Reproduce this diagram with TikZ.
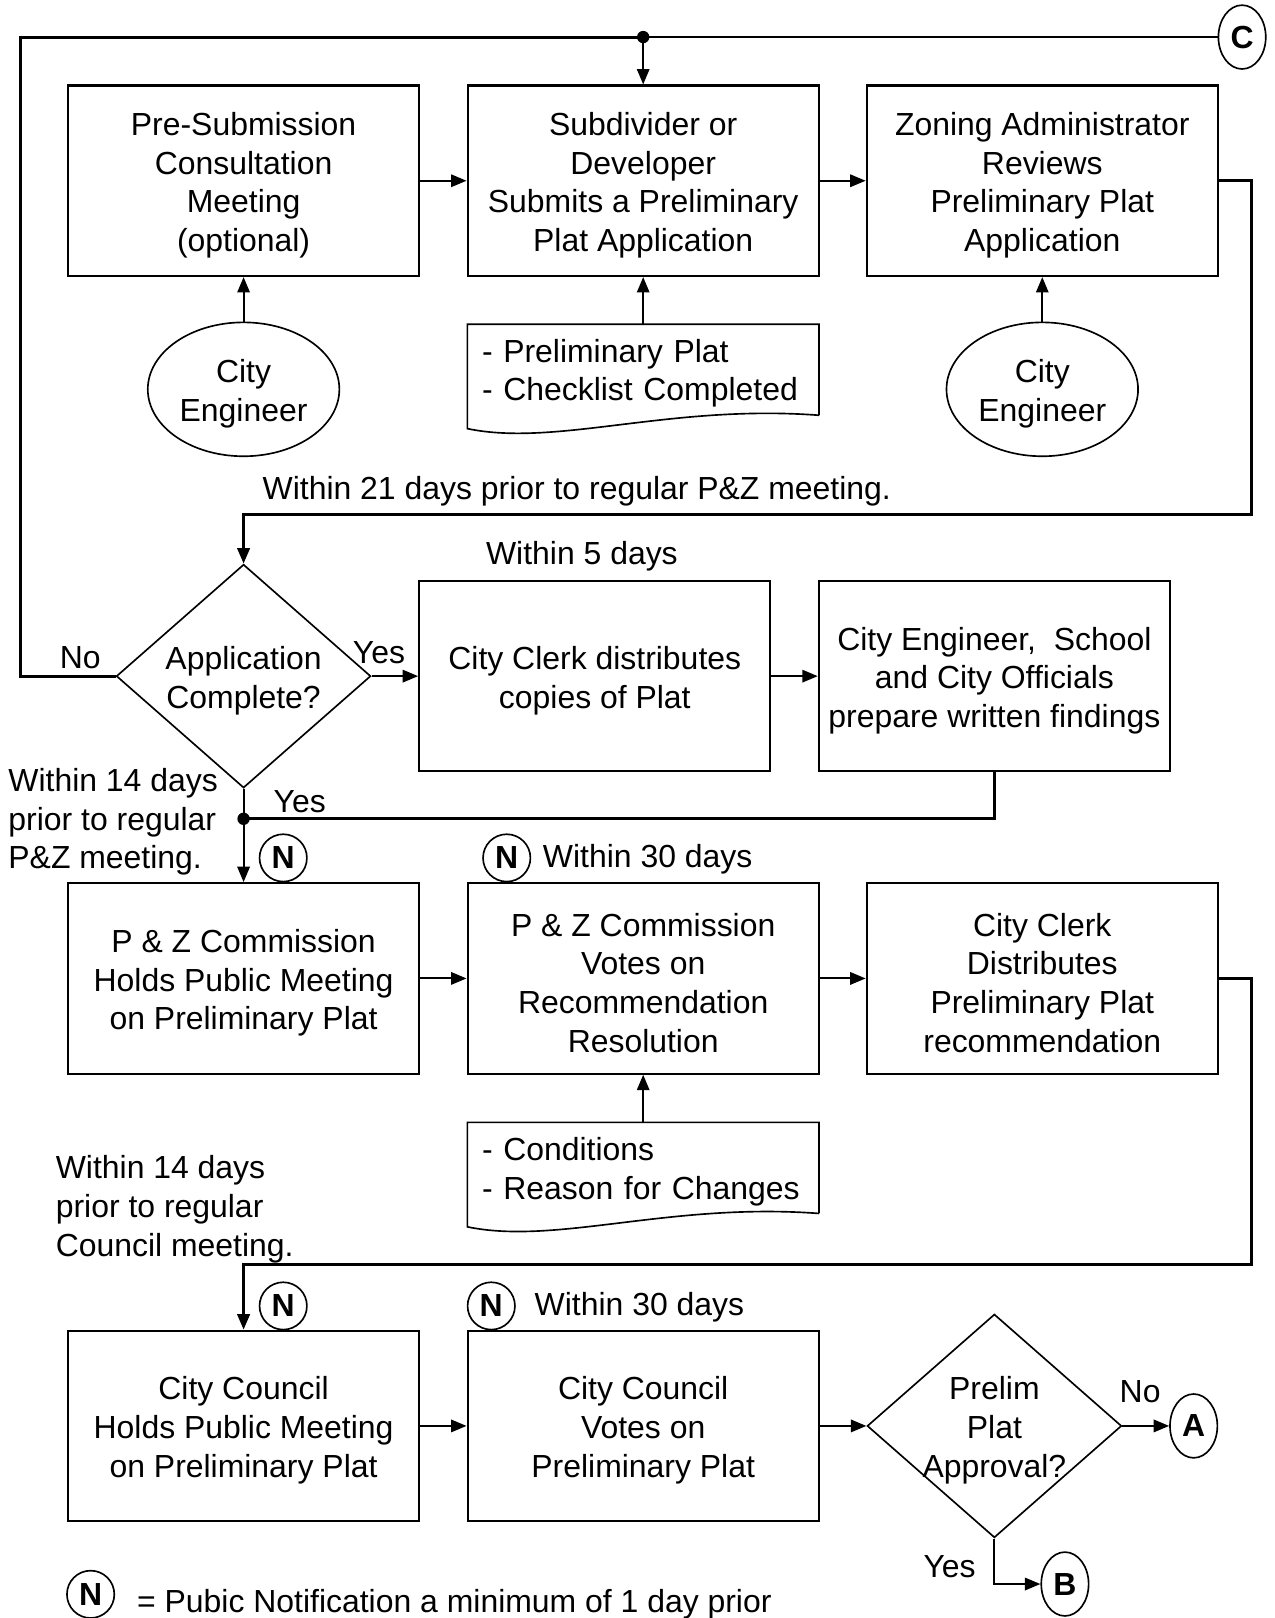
\documentclass[tikz,border=0pt]{standalone}
\usepackage{fontspec}
\setmainfont{Liberation Sans}
\usetikzlibrary{shapes.geometric,arrows.meta}
\begin{document}
\begin{tikzpicture}[x=1pt, y=1pt,
      every node/.style = {font=\fontsize{31}{37.5}\selectfont},
      lowered/.style = {align=flush center, text width=#1,
        execute at begin node={\rule{0pt}{31pt}}},
      box/.style = {shape=rectangle, draw, line width=2pt, lowered=330pt,
        minimum width=341pt, minimum height=185pt},
      person/.style = {shape=ellipse, draw, line width=1.6pt, lowered=128pt,
        minimum width=186pt, minimum height=130pt, inner sep=0pt},
      paper/.style = {align=left, text width=313pt, inner xsep=14pt,
        inner ysep=0pt, minimum height=95pt},
      decision/.style = {shape=diamond, draw, line width=1.6pt,
        minimum width=247pt, minimum height=217pt, inner sep=0pt},
      joint/.style = {shape=ellipse, draw, line width=1.6pt, inner sep=0pt,
        minimum width=46pt, minimum height=62pt,
        font=\fontsize{31}{37.5}\selectfont\bfseries},
      notice/.style = {shape=circle, draw, line width=1.6pt, inner sep=0pt,
        minimum size=46pt, font=\fontsize{31}{37.5}\selectfont\bfseries},
      arr/.style = {line width=2pt, -{Triangle[length=15pt,width=12pt]}},
      feed/.style = {line width=2.8pt}]
      \useasboundingbox (0,0) rectangle (1237,-1571);
      % first row
      \node[box] (pre) at (236.5,-175.5) {Pre-Submission\\Consultation\\Meeting\\(optional)};
      \node[box] (sub) at (624.5,-175.5) {Subdivider or\\Developer\\Submits a Preliminary\\Plat Application};
      \node[box] (zon) at (1012,-175.5) {Zoning Administrator\\Reviews\\Preliminary Plat\\Application};
      \node[person] (ce1) at (236.5,-378) {City\\Engineer};
      \node[paper] (chk) at (624.5,-362.5) {- Preliminary Plat\\- Checklist Completed};
      \node[person] (ce2) at (1012,-378) {City\\Engineer};
      \node[joint] (cC) at (1206,-36) {C};
      \coordinate (topdot) at (624.5,-36);
      % second row
      \node[decision] (appc) at (236.5,-656.5) {};
      \node[lowered=180pt] (appct) at (appc) {Application\\Complete?};
      \node[box] (dist) at (577.5,-656.5) {City Clerk distributes\\copies of Plat};
      \node[box] (find) at (965.5,-656.5) {City Engineer,\ \ School\\and City Officials\\prepare written findings};
      \coordinate (yesdot) at (236.5,-795);
      % third row
      \node[box] (pzm) at (236.5,-950) {P \& Z Commission\\Holds Public Meeting\\on Preliminary Plat};
      \node[box] (pzv) at (624.5,-950) {P \& Z Commission\\Votes on\\Recommendation\\Resolution};
      \node[box] (cld) at (1012,-950) {City Clerk\\Distributes\\Preliminary Plat\\recommendation};
      \node[paper] (cond) at (624.5,-1137.5) {- Conditions\\- Reason for Changes};
      % fourth row
      \node[box] (ccm) at (236.5,-1384.5) {City Council\\Holds Public Meeting\\on Preliminary Plat};
      \node[box] (ccv) at (624.5,-1384.5) {City Council\\Votes on\\Preliminary Plat};
      \node[decision] (ppa) at (965.5,-1384.5) {};
      \node[lowered=180pt] (ppat) at (ppa) {Prelim\\Plat\\Approval?};
      \node[joint] (cA) at (1159,-1384.5) {A};
      \node[joint] (cB) at (1034,-1538) {B};
      % notices
      \node[notice] (n1) at (275,-833) {N};
      \node[notice] (n2) at (492,-833) {N};
      \node[notice] (n3) at (275,-1268) {N};
      \node[notice] (n4) at (477,-1268) {N};
      \node[notice] (n5) at (88,-1548) {N};
      % labels
      \node (d21) at (560,-477) {Within 21 days prior to regular P\&Z meeting.};
      \node (d5) at (565,-540) {Within 5 days};
      \node (no1) at (78,-639) {No};
      \node (yes1) at (368,-634) {Yes};
      \node (yes2) at (291,-778) {Yes};
      \node[align=left, anchor=west, inner sep=0pt] (d14a) at (8,-798) {Within 14 days\\prior to regular\\P\&Z meeting.};
      \node[anchor=west, inner sep=0pt] (d30a) at (527,-834) {Within 30 days};
      \node[align=left, anchor=west, inner sep=0pt] (d14b) at (54,-1174) {Within 14 days\\prior to regular\\Council meeting.};
      \node[anchor=west, inner sep=0pt] (d30b) at (519,-1269) {Within 30 days};
      \node (no2) at (1107,-1351) {No};
      \node (yes3) at (922,-1521) {Yes};
      \node[anchor=west, inner sep=0pt] (legend) at (133,-1558) {= Pubic Notification a minimum of 1 day prior};
      % document outlines
      \foreach \d in {chk,cond}
        \draw[line width=1.6pt] ([yshift=7pt]\d.south east) -- (\d.north east) -- (\d.north west)
          -- ([yshift=-6pt]\d.south west)
          .. controls ([shift={(86pt,-24pt)}]\d.south west) and ([shift={(-145pt,18pt)}]\d.south east)
          .. ([yshift=7pt]\d.south east);
      % connectors
      \draw[line width=2pt] (cC.west) -- (topdot);
      \draw[feed] (topdot) -- ++(-604.5,0) |- (appc.west);
      \draw[arr] (topdot) -- (sub.north);
      \fill (topdot) circle (6);
      \draw[arr] (pre) -- (sub);
      \draw[arr] (sub) -- (zon);
      \draw[arr] (ce1) -- (pre);
      \draw[arr] (chk) -- (sub);
      \draw[arr] (ce2) -- (zon);
      \draw[arr, feed] (zon.east) -| ++(32,-324) -| (appc.north);
      \draw[arr] (appc.east) -- (dist.west);
      \draw[arr] (dist) -- (find);
      \draw[line width=2pt] (appc.south) -- (yesdot);
      \draw[feed] (find.south) |- (yesdot);
      \draw[arr] (yesdot) -- (pzm.north);
      \fill (yesdot) circle (6);
      \draw[arr] (pzm) -- (pzv);
      \draw[arr] (pzv) -- (cld);
      \draw[arr] (cond) -- (pzv);
      \draw[arr, feed] (cld.east) -| ++(32,-278) -| (ccm.north);
      \draw[arr] (ccm) -- (ccv);
      \draw[arr] (ccv) -- (ppa.west);
      \draw[arr] (ppa.east) -- (cA);
      \draw[arr] (ppa.south) |- (cB);
\end{tikzpicture}
\end{document}
